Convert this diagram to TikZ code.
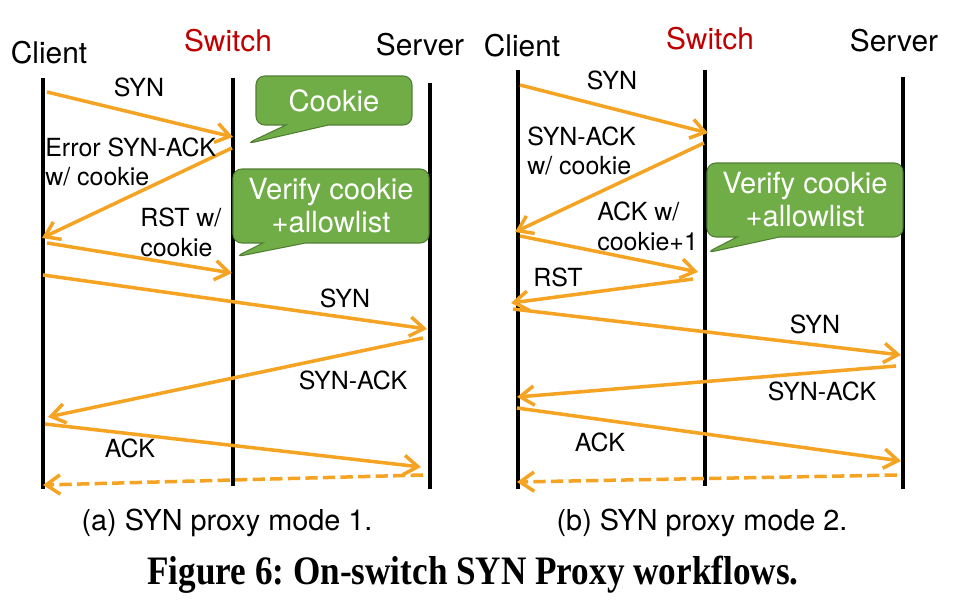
\documentclass[tikz,border=0pt]{standalone}
\usepackage{fontspec}
\setmainfont{TeX Gyre Heros}
\newfontfamily\capfont[FakeStretch=0.87]{Liberation Serif}
\usetikzlibrary{arrows.meta,shapes.callouts}
\frenchspacing

\definecolor{msgorange}{RGB}{245,163,35}
\definecolor{boxgreen}{RGB}{112,173,71}
\definecolor{boxedge}{RGB}{80,126,50}
\definecolor{switchred}{RGB}{192,0,0}

\tikzset{
  life/.style={line width=2pt},
  msg/.style={draw=msgorange, line width=2pt, -{Straight Barb[length=8pt,width=11pt]}},
  ret/.style={msg, dash pattern=on 7pt off 3pt},
  head/.style={font=\fontsize{17}{20}\selectfont, inner sep=0pt, anchor=base},
  lbl/.style={font=\fontsize{14.2}{17}\selectfont, inner sep=0pt, anchor=base},
  lbltwo/.style={font=\fontsize{14.2}{17}\selectfont, inner sep=0pt, anchor=west, align=left},
  note/.style={rectangle callout, rounded corners=5pt, fill=boxgreen, draw=boxedge,
    line width=0.6pt, text=white, font=\fontsize{16.6}{18.8}\selectfont,
    align=center, inner sep=0pt, callout pointer width=0.85cm},
  subcap/.style={font=\fontsize{16.4}{19}\selectfont, inner sep=0pt, anchor=base}
}

\begin{document}
\begin{tikzpicture}[x=0.02cm, y=-0.02cm]
  \useasboundingbox (0,0) rectangle (961,604);

  % (a) mode 1
  \node [head] (clientA) at (49,64) {Client};
  \node [head, text=switchred] (switchA) at (228,52) {Switch};
  \node [head] (serverA) at (420,56) {Server};
  \draw [life] (43,78) -- (43,489);
  \draw [life] (233,78) -- (233,486);
  \draw [life] (430,83) -- (430,489);

  \foreach \n/\sx/\sy/\ex/\ey in {a1/47/92/233/137, a2/232/148/42/238, a3/47/243/232/273,
      a4/43/275/427/329, a5/423/338/48/417, a6/45/424/421/467} {
    \coordinate (\n s) at (\sx,\sy);
    \coordinate (\n e) at (\ex,\ey);
    \draw [msg] (\n s) -- (\n e);
  }
  \coordinate (a7s) at (423,475);
  \coordinate (a7e) at (43,485);
  \draw [ret] (a7s) -- (a7e);

  \node [lbl] (synA) at (139,97) {SYN};
  \node [lbltwo] (errA) at (45,162) {Error SYN-ACK\\w/ cookie};
  \node [lbltwo] (rstA) at (140,232) {RST w/\\cookie};
  \node [lbl] (synA2) at (345,308) {SYN};
  \node [lbl] (synackA) at (353,390) {SYN-ACK};
  \node [lbl] (ackA) at (130,458) {ACK};

  \node [note, minimum width=3.12cm, minimum height=0.98cm,
    callout absolute pointer={(246,144)}] (cookieA) at (334,100.5) {Cookie};
  \node [note, minimum width=3.92cm, minimum height=1.48cm,
    callout absolute pointer={(235,257)}] (verifyA) at (331,206) {Verify cookie\\+allowlist};

  \node [subcap] (capA) at (227,531) {(a) SYN proxy mode 1.};

  % (b) mode 2
  \node [head] (clientB) at (522,57) {Client};
  \node [head, text=switchred] (switchB) at (710,50) {Switch};
  \node [head] (serverB) at (894,52) {Server};
  \draw [life] (518,70) -- (518,489);
  \draw [life] (705,70) -- (705,486);
  \draw [life] (903,77) -- (903,489);

  \foreach \n/\sx/\sy/\ex/\ey in {b1/520/85/708/133, b2/704/143/515/232, b3/520/236/698/272,
      b4/693/279/511/303, b5/513/309/901/355, b6/896/366/517/397, b7/517/408/901/461} {
    \coordinate (\n s) at (\sx,\sy);
    \coordinate (\n e) at (\ex,\ey);
    \draw [msg] (\n s) -- (\n e);
  }
  \coordinate (b8s) at (897,475);
  \coordinate (b8e) at (517,482);
  \draw [ret] (b8s) -- (b8e);

  \node [lbl] (synB) at (612,90) {SYN};
  \node [lbltwo] (synackB) at (527,151) {SYN-ACK\\w/ cookie};
  \node [lbltwo] (ackB) at (597,226) {ACK w/\\cookie+1};
  \node [lbl] (rstB) at (558,287) {RST};
  \node [lbl] (synB2) at (815,334) {SYN};
  \node [lbl] (synackB2) at (822,401) {SYN-ACK};
  \node [lbl] (ackB2) at (600,452) {ACK};

  \node [note, minimum width=3.92cm, minimum height=1.48cm,
    callout absolute pointer={(706,253)}] (verifyB) at (805,200) {Verify cookie\\+allowlist};

  \node [subcap] (capB) at (702,531) {(b) SYN proxy mode 2.};

  \node [inner sep=0pt, anchor=base, font=\capfont\bfseries\fontsize{23}{26}\selectfont]
    (figcap) at (473,585) {Figure 6: On-switch SYN Proxy workflows.};
\end{tikzpicture}
\end{document}
